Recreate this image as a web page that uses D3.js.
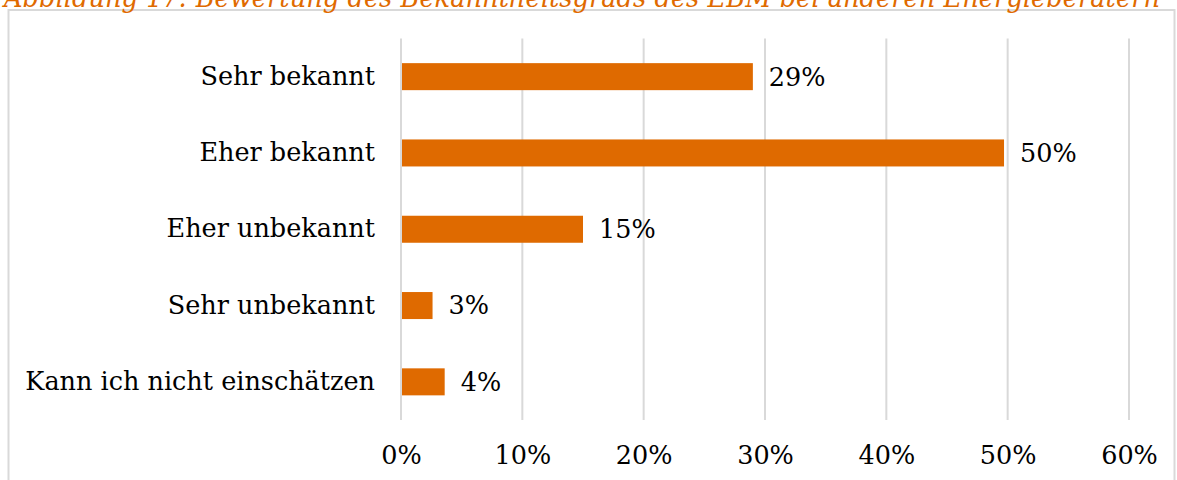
<!DOCTYPE html>
<html>
<head>
<meta charset="utf-8">
<script src="https://d3js.org/d3.v7.min.js"></script>
<style>
  body { margin: 0; background: #fff; }
  text { font-family: "DejaVu Serif", "Liberation Serif", serif; }
</style>
</head>
<body>
<div id="chart"></div>
<script>
  // data
  var categories = ["Sehr bekannt", "Eher bekannt", "Eher unbekannt", "Sehr unbekannt", "Kann ich nicht einschätzen"];
  var shares = [0.290, 0.497, 0.150, 0.026, 0.036];
  var tickValues = [0, 0.1, 0.2, 0.3, 0.4, 0.5, 0.6];
  var title = "Abbildung 17: Bewertung des Bekanntheitsgrads des EBM bei anderen Energieberatern";

  var W = 1177, H = 480;
  var orange = "#DF6A00";
  var grid = "#D9D9D9";
  var fontSize = "25.5px";

  var svg = d3.select("#chart").append("svg")
    .attr("width", W)
    .attr("height", H);

  // frame of the chart area
  svg.append("rect")
    .attr("x", 8.5)
    .attr("y", 10)
    .attr("width", 1166)
    .attr("height", 500)
    .attr("fill", "none")
    .attr("stroke", grid)
    .attr("stroke-width", 2);

  // caption, cut off at the top edge like in the source
  svg.append("text")
    .attr("x", 4)
    .attr("y", 7)
    .attr("textLength", 1156)
    .attr("lengthAdjust", "spacingAndGlyphs")
    .style("font-style", "italic")
    .style("font-size", "28px")
    .style("fill", orange)
    .text(title);

  var x = d3.scaleLinear()
    .domain([0, 0.6])
    .range([401, 1129]);

  var y = d3.scaleBand()
    .domain(categories)
    .range([38.5, 420])
    .paddingInner(0.646)
    .paddingOuter(0.323);

  // vertical gridlines
  svg.append("g")
    .selectAll("line")
    .data(tickValues)
    .enter()
    .append("line")
      .attr("x1", function (d) { return x(d); })
      .attr("x2", function (d) { return x(d); })
      .attr("y1", 38.5)
      .attr("y2", 420)
      .attr("stroke", grid)
      .attr("stroke-width", 2);

  // x axis labels
  var xAxis = svg.append("g")
    .attr("transform", "translate(0,420)")
    .call(d3.axisBottom(x).tickValues(tickValues).tickFormat(d3.format(".0%")).tickSize(0).tickPadding(26));
  xAxis.select(".domain").remove();
  xAxis.selectAll("text")
    .style("font-family", "\"DejaVu Serif\", serif")
    .style("font-size", fontSize)
    .style("fill", "#000");

  // category labels
  var yAxis = svg.append("g")
    .attr("transform", "translate(401,0)")
    .call(d3.axisLeft(y).tickSize(0).tickPadding(26));
  yAxis.select(".domain").remove();
  yAxis.selectAll("text")
    .style("font-family", "\"DejaVu Serif\", serif")
    .style("font-size", fontSize)
    .style("fill", "#000");

  // bars
  svg.append("g")
    .selectAll("rect")
    .data(categories)
    .enter()
    .append("rect")
      .attr("x", x(0) + 1)
      .attr("y", function (d) { return y(d); })
      .attr("width", function (d, i) { return x(shares[i]) - x(0) - 1; })
      .attr("height", y.bandwidth())
      .attr("fill", orange);

  // value labels
  svg.append("g")
    .selectAll("text")
    .data(categories)
    .enter()
    .append("text")
      .attr("x", function (d, i) { return x(shares[i]) + 16; })
      .attr("y", function (d) { return y(d) + y.bandwidth() / 2; })
      .attr("dy", "0.35em")
      .style("font-size", fontSize)
      .style("fill", "#000")
      .text(function (d, i) { return d3.format(".0%")(shares[i]); });
</script>
</body>
</html>
